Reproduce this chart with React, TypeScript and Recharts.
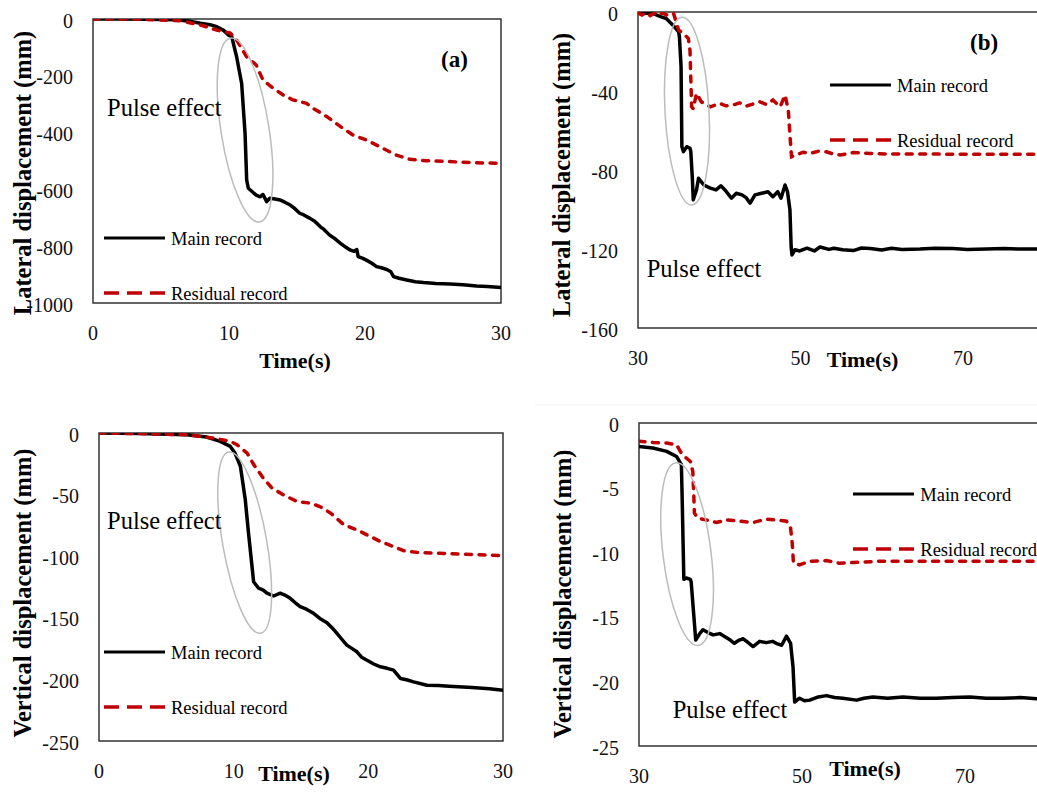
import React from 'react';
import { LineChart, Line, XAxis, YAxis, ReferenceArea, ReferenceDot, Legend } from 'recharts';

type Pt = [number, number];

// ---------- Data (time s, displacement mm) ----------
const latMain0to30: Pt[] = [
  [0, 0], [2, 0], [4, -1], [6, -3], [7, -7], [7.9, -15], [8.6, -20], [9.1, -27], [9.6, -40], [10.0, -58],
  [10.2, -62], [10.56, -133], [10.93, -227], [11.18, -402], [11.3, -567], [11.42, -596], [11.8, -612], [12.0, -620],
  [12.28, -626], [12.5, -618], [12.77, -643], [13.0, -631], [13.4, -634], [13.75, -637], [14.1, -645], [14.5, -655],
  [14.8, -666], [15.2, -684], [15.5, -690], [15.96, -702], [16.3, -712], [16.7, -731], [17.0, -742], [17.4, -761],
  [17.8, -774], [18.2, -790], [18.6, -804], [18.9, -813], [19.2, -818], [19.4, -812], [19.5, -837], [19.8, -842],
  [20.1, -849], [20.5, -860], [20.85, -872], [21.2, -876], [21.6, -882], [21.9, -890], [22.1, -907], [22.5, -913],
  [23.07, -919], [23.7, -925], [24.3, -928], [25.2, -931], [26.25, -933], [27.2, -936], [28.2, -940], [29.0, -942], [30, -945],
];
const latResidual0to30: Pt[] = [
  [0, 0], [3, 0], [6.4, -6], [7.9, -21], [9.1, -39], [10.1, -50], [10.56, -74], [11.3, -133], [12.0, -162],
  [12.5, -215], [13.26, -244], [14.0, -268], [14.7, -285], [15.7, -297], [16.2, -315], [17.2, -344], [18.2, -379],
  [19.1, -408], [20.1, -426], [21.3, -455], [22.3, -479], [23.3, -494], [24.5, -499], [26.2, -502], [27.9, -506], [30, -508],
];
const latMain30to90: Pt[] = [
  [30, -0.5], [31.0, -0.6], [31.9, -0.8], [32.7, -2.2], [33.5, -3.4], [34.3, -6.7], [35.0, -10.1], [35.1, -12.6],
  [35.3, -27.8], [35.4, -68.2], [35.6, -70.7], [36.0, -68.2], [36.4, -69], [36.5, -70.7], [36.7, -85], [36.8, -95.1],
  [37.2, -90.1], [37.45, -84.2], [37.8, -86], [38.1, -87.6], [38.9, -89.2], [39.6, -90.1], [40.2, -88], [40.7, -90.1],
  [41.5, -94.3], [42.1, -91.8], [42.8, -92.6], [43.3, -94], [43.8, -96.8], [44.4, -92.6], [45.2, -91.8], [46.0, -91],
  [46.6, -93.5], [47.2, -91], [47.6, -94.3], [48.1, -87.6], [48.4, -91], [48.7, -100.2], [48.85, -119], [48.95, -123],
  [49.3, -120.4], [49.9, -121], [50.8, -119.6], [51.7, -121], [52.4, -119], [53.5, -120.2], [54.1, -119.6],
  [55.2, -120.4], [56.5, -120.8], [57.5, -119.5], [58.6, -119.8], [60.0, -120.5], [61.2, -119.6], [62.5, -120.2],
  [64.7, -120], [66.5, -119.6], [68.8, -119.8], [70.5, -120.2], [72.9, -120], [75, -119.8], [77.0, -120], [80, -120], [90, -120],
];
const latResidual30to90: Pt[] = [
  [30, -0.5], [30.5, -1.5], [31, -0.3], [31.5, -1.8], [32, -0.6], [32.5, -1.6], [33, -0.4], [33.5, -1.5], [34, -0.5],
  [34.4, -1], [35.0, -9.2], [35.6, -10.9], [36.2, -13.5], [36.4, -19.4], [36.6, -48], [36.8, -49], [37.2, -41.2],
  [37.8, -45.5], [38.9, -48], [40.1, -46.3], [40.8, -47.5], [41.7, -47.1], [42.5, -46], [43.4, -47.6], [44.2, -46.5],
  [45.0, -45.5], [45.8, -46.8], [46.6, -44.6], [47.5, -48], [48.1, -42.1], [48.5, -49.7], [48.8, -68.2], [48.9, -73.3],
  [49.5, -72.4], [50.3, -71], [51.2, -71.6], [52.2, -70.5], [53.2, -70.8], [54.1, -72], [54.9, -72.4], [56.5, -71.2],
  [58.6, -71.6], [60.6, -71.9], [64.7, -71.9], [68.8, -72], [72.9, -72], [79, -72], [90, -72],
];
const vertMain0to30: Pt[] = [
  [0, 0], [3, -0.5], [6.5, -1.4], [8.0, -3.3], [9.0, -6.8], [9.75, -10.9], [10.1, -16.3], [10.5, -27], [10.86, -54],
  [11.1, -81], [11.36, -108], [11.48, -120.7], [11.85, -126], [12.2, -127.5], [12.47, -130], [12.96, -132.3],
  [13.46, -130], [13.8, -131.5], [14.2, -134.2], [14.6, -138], [14.94, -141], [15.4, -143], [15.93, -146.4],
  [16.4, -150.5], [16.93, -154], [17.3, -158], [17.67, -162.6], [18.0, -167], [18.4, -172.2], [18.8, -175],
  [19.15, -177.6], [19.5, -182], [19.9, -184.4], [20.4, -187.5], [20.9, -189.8], [21.4, -191], [21.87, -192.5],
  [22.4, -199.3], [22.9, -200.5], [23.36, -202], [24.35, -204.7], [25.2, -205], [26.0, -205.5], [27.7, -206.6], [29.0, -207.5], [30, -208.8],
];
const vertResidual0to30: Pt[] = [
  [0, 0], [3, -0.5], [6.5, -1.4], [8.5, -4.1], [9.75, -6.8], [10.25, -9.5], [11.0, -16.3], [11.5, -25.8], [12.2, -36.6],
  [12.84, -44.7], [13.7, -50.2], [14.7, -55.6], [15.7, -56.9], [16.4, -59.7], [17.2, -65], [18.2, -74.6], [19.15, -78.6],
  [19.9, -82.7], [20.9, -88.1], [21.87, -92.2], [22.6, -95.5], [23.8, -97.1], [25.3, -97.6], [27.2, -98.4], [30, -99.5],
];
const vertMain30to90: Pt[] = [
  [30, -1.81], [31.7, -1.94], [33.4, -2.2], [34.6, -2.59], [35.2, -3.23], [35.3, -5.9], [35.5, -12.1], [35.8, -12.0],
  [36.3, -12.1], [36.4, -12.3], [36.7, -14.7], [36.96, -16.8], [37.45, -16.3], [37.85, -16.0], [38.4, -16.2],
  [39.1, -16.4], [39.9, -16.3], [40.7, -16.6], [41.2, -16.8], [41.7, -17.05], [42.3, -16.8], [42.8, -16.7],
  [43.4, -17.0], [44.0, -17.3], [44.8, -16.9], [45.6, -17.0], [46.4, -16.9], [47.0, -17.1], [47.5, -17.2],
  [48.1, -16.5], [48.6, -17.05], [48.9, -18.9], [49.1, -21.6], [49.7, -21.3], [50.3, -21.5], [50.95, -21.45],
  [52.0, -21.2], [53.0, -21.1], [54.0, -21.25], [55.0, -21.3], [56.7, -21.45], [57.6, -21.3], [58.7, -21.2],
  [60.5, -21.3], [62.4, -21.2], [64.5, -21.3], [66.5, -21.3], [68.5, -21.25], [70.6, -21.2], [72.6, -21.3],
  [74.7, -21.3], [76.8, -21.25], [78.8, -21.35], [90, -21.3],
];
const vertResidual30to90: Pt[] = [
  [30, -1.42], [31.7, -1.5], [33.4, -1.55], [34.6, -1.68], [35.2, -2.33], [35.8, -2.71], [36.3, -2.97], [36.6, -3.75],
  [36.7, -5.17], [36.8, -6.98], [37.2, -7.36], [38.2, -7.5], [39.5, -7.7], [40.7, -7.5], [42.4, -7.6], [44.0, -7.7],
  [45.6, -7.44], [47.2, -7.53], [48.1, -7.6], [48.6, -8.14], [48.8, -9.3], [48.95, -10.85], [49.7, -10.98],
  [50.95, -10.7], [53.0, -10.65], [54.6, -10.85], [56.3, -10.8], [59.5, -10.7], [64.4, -10.7], [70.6, -10.7],
  [78.8, -10.7], [90, -10.7],
];

// ---------- Ticks ----------
const xTicksEarly = [0, 10, 20, 30];
const xTicksLate = [30, 50, 70];
const yTicksLatEarly = [0, -200, -400, -600, -800, -1000];
const yTicksLatLate = [0, -40, -80, -120, -160];
const yTicksVertEarly = [0, -50, -100, -150, -200, -250];
const yTicksVertLate = [0, -5, -10, -15, -20, -25];

const MAIN_NAME = 'Main record';
const RES_NAME = 'Residual record';
const RED = '#c00000';
const FONT = "'Liberation Serif', 'Times New Roman', serif";

const PAD_L = 80, PAD_T = 10, PAD_R = 10, PAD_B = 80;

interface PanelCfg {
  L: number; T: number; W: number; H: number;
  xDomain: [number, number]; yDomain: [number, number];
  xTicks: number[]; yTicks: number[];
  main: Pt[]; res: Pt[];
  ell: { x: number; y: number; rx: number; ry: number; rot: number };
  legend: { x: number; y: number };
}

const panels: PanelCfg[] = [
  { L: 93, T: 19, W: 408, H: 284, xDomain: [0, 30], yDomain: [-1000, 0], xTicks: xTicksEarly, yTicks: yTicksLatEarly,
    main: latMain0to30, res: latResidual0to30, ell: { x: 11.18, y: -391, rx: 24, ry: 93, rot: -9 }, legend: { x: 104, y: 237.7 } },
  { L: 638, T: 12, W: 487.5, H: 316, xDomain: [30, 90], yDomain: [-160, 0], xTicks: xTicksLate, yTicks: yTicksLatLate,
    main: latMain30to90, res: latResidual30to90, ell: { x: 36.03, y: -50.2, rx: 22, ry: 94, rot: -3 }, legend: { x: 830, y: 85 } },
  { L: 99, T: 433, W: 404, H: 308, xDomain: [0, 30], yDomain: [-250, 0], xTicks: xTicksEarly, yTicks: yTicksVertEarly,
    main: vertMain0to30, res: vertResidual0to30, ell: { x: 10.82, y: -89, rx: 22, ry: 92, rot: -10 }, legend: { x: 104, y: 652.3 } },
  { L: 639, T: 423, W: 489, H: 323, xDomain: [30, 90], yDomain: [-25, 0], xTicks: xTicksLate, yTicks: yTicksVertLate,
    main: vertMain30to90, res: vertResidual30to90, ell: { x: 35.9, y: -10.15, rx: 24, ry: 92, rot: -7 }, legend: { x: 853.3, y: 494 } },
];

const legendStyles: Record<string, { dash?: string; w: number }> = {
  [MAIN_NAME]: { w: 3.2 },
  [RES_NAME]: { dash: '15 8', w: 3.5 },
};

const XTick = (props: any) => (
  <text x={props.x} y={props.y + 36.5} textAnchor="middle" fontFamily={FONT} fontSize={20} fill="#111">
    {props.payload.value}
  </text>
);
const YTick = (props: any) => (
  <text x={props.x - 20} y={props.y + 8.5} textAnchor="end" fontFamily={FONT} fontSize={20} fill="#111">
    {props.payload.value}
  </text>
);

const LegendContent = (props: any) => {
  const payload: any[] = props.payload || [];
  const order = [MAIN_NAME, RES_NAME];
  return (
    <div>
      {order.map((name) => {
        const entry = payload.find((p) => p.value === name);
        const color = entry ? entry.color : name === MAIN_NAME ? '#000' : RED;
        const st = legendStyles[name];
        return (
          <div key={name} style={{ display: 'flex', alignItems: 'center', height: 22, marginBottom: 33 }}>
            <svg width={61} height={8} style={{ display: 'block' }}>
              <line x1={0} y1={4} x2={61} y2={4} stroke={color} strokeWidth={st.w} strokeDasharray={st.dash} />
            </svg>
            <span style={{ marginLeft: 6, paddingTop: 3, fontFamily: FONT, fontSize: 18.5, color: '#000', whiteSpace: 'nowrap' }}>
              {name}
            </span>
          </div>
        );
      })}
    </div>
  );
};

const Panel = ({ cfg }: { cfg: PanelCfg }) => {
  const toData = (arr: Pt[]) => arr.map(([t, v]) => ({ t, v }));
  const { ell } = cfg;
  return (
    <div style={{ position: 'absolute', left: cfg.L - PAD_L, top: cfg.T - PAD_T }}>
      <LineChart width={cfg.W + PAD_L + PAD_R} height={cfg.H + PAD_T + PAD_B} margin={{ top: PAD_T, right: PAD_R, bottom: 0, left: 0 }}>
        <XAxis dataKey="t" type="number" domain={cfg.xDomain} ticks={cfg.xTicks} allowDataOverflow interval={0}
          axisLine={false} tickLine={false} tickSize={0} tickMargin={0} height={PAD_B} tick={XTick} />
        <YAxis type="number" domain={cfg.yDomain} ticks={cfg.yTicks} allowDataOverflow interval={0}
          axisLine={false} tickLine={false} tickSize={0} tickMargin={0} width={PAD_L} tick={YTick} />
        <ReferenceArea x1={cfg.xDomain[0]} x2={cfg.xDomain[1]} y1={cfg.yDomain[0]} y2={cfg.yDomain[1]}
          fill="none" fillOpacity={0} stroke="#333" strokeWidth={1.5} ifOverflow="visible" />
        <Line data={toData(cfg.main)} dataKey="v" name={MAIN_NAME} type="linear" stroke="#000" strokeWidth={3.5}
          dot={false} activeDot={false} isAnimationActive={false} strokeLinejoin="round" />
        <Line data={toData(cfg.res)} dataKey="v" name={RES_NAME} type="linear" stroke={RED} strokeWidth={3.5}
          strokeDasharray="6 7.5" strokeLinecap="round" dot={false} activeDot={false} isAnimationActive={false} />
        <ReferenceDot x={ell.x} y={ell.y} r={1} ifOverflow="visible"
          shape={(p: any) => (
            <ellipse cx={p.cx} cy={p.cy} rx={ell.rx} ry={ell.ry} transform={`rotate(${ell.rot} ${p.cx} ${p.cy})`}
              fill="none" stroke="#bcbcbc" strokeWidth={1.5} />
          )} />
        <Legend layout="horizontal" verticalAlign="middle" align="center" content={LegendContent}
          wrapperStyle={{ left: cfg.legend.x - (cfg.L - PAD_L), top: cfg.legend.y - 11 - (cfg.T - PAD_T), width: 'auto', height: 'auto' }} />
      </LineChart>
    </div>
  );
};

const yTitles = [
  { text: 'Lateral displacement (mm)', x: 31, y: 173 },
  { text: 'Lateral displacement (mm)', x: 570, y: 175 },
  { text: 'Vertical displacement (mm)', x: 31, y: 593 },
  { text: 'Vertical displacement (mm)', x: 571, y: 594 },
];
const xTitles = [
  { x: 295, y: 367.5 }, { x: 862.5, y: 367 }, { x: 294, y: 780.5 }, { x: 865, y: 775.5 },
];
const pulseLabels = [
  { x: 107, y: 115.5 }, { x: 646.7, y: 276.7 }, { x: 107, y: 529.3 }, { x: 672.7, y: 718.3 },
];

export default function App() {
  return (
    <div style={{ position: 'absolute', left: 0, top: 0, width: 1037, height: 793, overflow: 'hidden', background: '#fff' }}>
      {panels.map((p, i) => <Panel key={i} cfg={p} />)}
      <svg width={1037} height={793} style={{ position: 'absolute', left: 0, top: 0, pointerEvents: 'none' }}>
        <line x1={535} y1={405} x2={1037} y2={405} stroke="#f0f0f0" strokeWidth={1} />
        {yTitles.map((t, i) => (
          <text key={'y' + i} transform={`translate(${t.x},${t.y}) rotate(-90)`} textAnchor="middle"
            fontFamily={FONT} fontWeight="bold" fontSize={24.5} fill="#000">{t.text}</text>
        ))}
        {xTitles.map((t, i) => (
          <text key={'x' + i} x={t.x} y={t.y} textAnchor="middle" fontFamily={FONT} fontWeight="bold" fontSize={22} fill="#000">Time(s)</text>
        ))}
        {pulseLabels.map((t, i) => (
          <text key={'p' + i} x={t.x} y={t.y} fontFamily={FONT} fontSize={24.5} fill="#000">Pulse effect</text>
        ))}
        <text x={441} y={66.5} fontFamily={FONT} fontWeight="bold" fontSize={23} fill="#000">(a)</text>
        <text x={970} y={50} fontFamily={FONT} fontWeight="bold" fontSize={23} fill="#000">(b)</text>
      </svg>
    </div>
  );
}
